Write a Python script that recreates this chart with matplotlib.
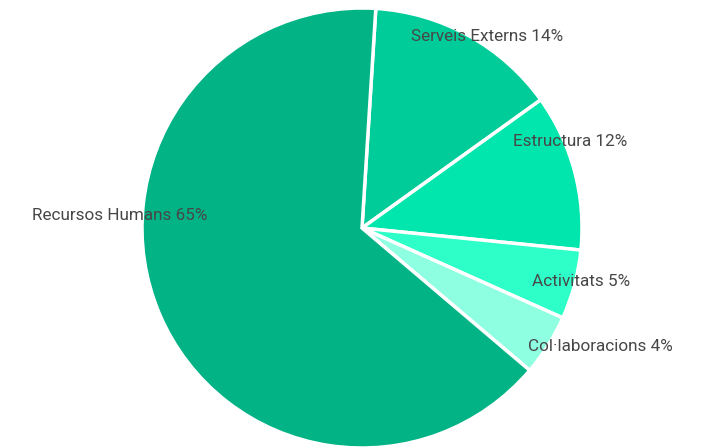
import matplotlib
matplotlib.use("Agg")
import matplotlib.pyplot as plt
import numpy as np

# budget shares (%), clockwise from just right of 12 o'clock
CATEGORIES = ["Serveis Externs", "Estructura", "Activitats", "Col·laboracions", "Recursos Humans"]
SHARES = [14.1, 11.5, 5.1, 4.5, 64.8]
PCT_LABELS = ["14%", "12%", "5%", "4%", "65%"]

COLORS = ["#00cc99", "#00e6ac", "#2effc8", "#8effe0", "#02b386"]
# label anchor in pie-radius units (label centre)
LABEL_XY = [(0.568, 0.870), (0.945, 0.393), (0.995, -0.243), (1.082, -0.539), (-1.10, 0.057)]

plt.rcParams["font.family"] = ["Roboto", "DejaVu Sans"]

fig = plt.figure(figsize=(7.07, 4.48), dpi=100)
# pie centre at (362, 228) px, radius 220 px
r_px = 220
ax = fig.add_axes([(362 - r_px) / 707, (448 - 228 - r_px) / 448, 2 * r_px / 707, 2 * r_px / 448])
ax.pie(SHARES, colors=COLORS, startangle=86.4, counterclock=False, radius=1.0,
       wedgeprops=dict(edgecolor="white", linewidth=2.5))
ax.set_xlim(-1, 1)
ax.set_ylim(-1, 1)
ax.set_aspect("auto")
ax.set_axis_off()

for name, pct, (lx, ly) in zip(CATEGORIES, PCT_LABELS, LABEL_XY):
    ax.text(lx, ly, f"{name} {pct}", ha="center", va="center", fontsize=12.3,
            color="#474747", fontweight="normal", clip_on=False)

fig.savefig("out.png", dpi=100)
